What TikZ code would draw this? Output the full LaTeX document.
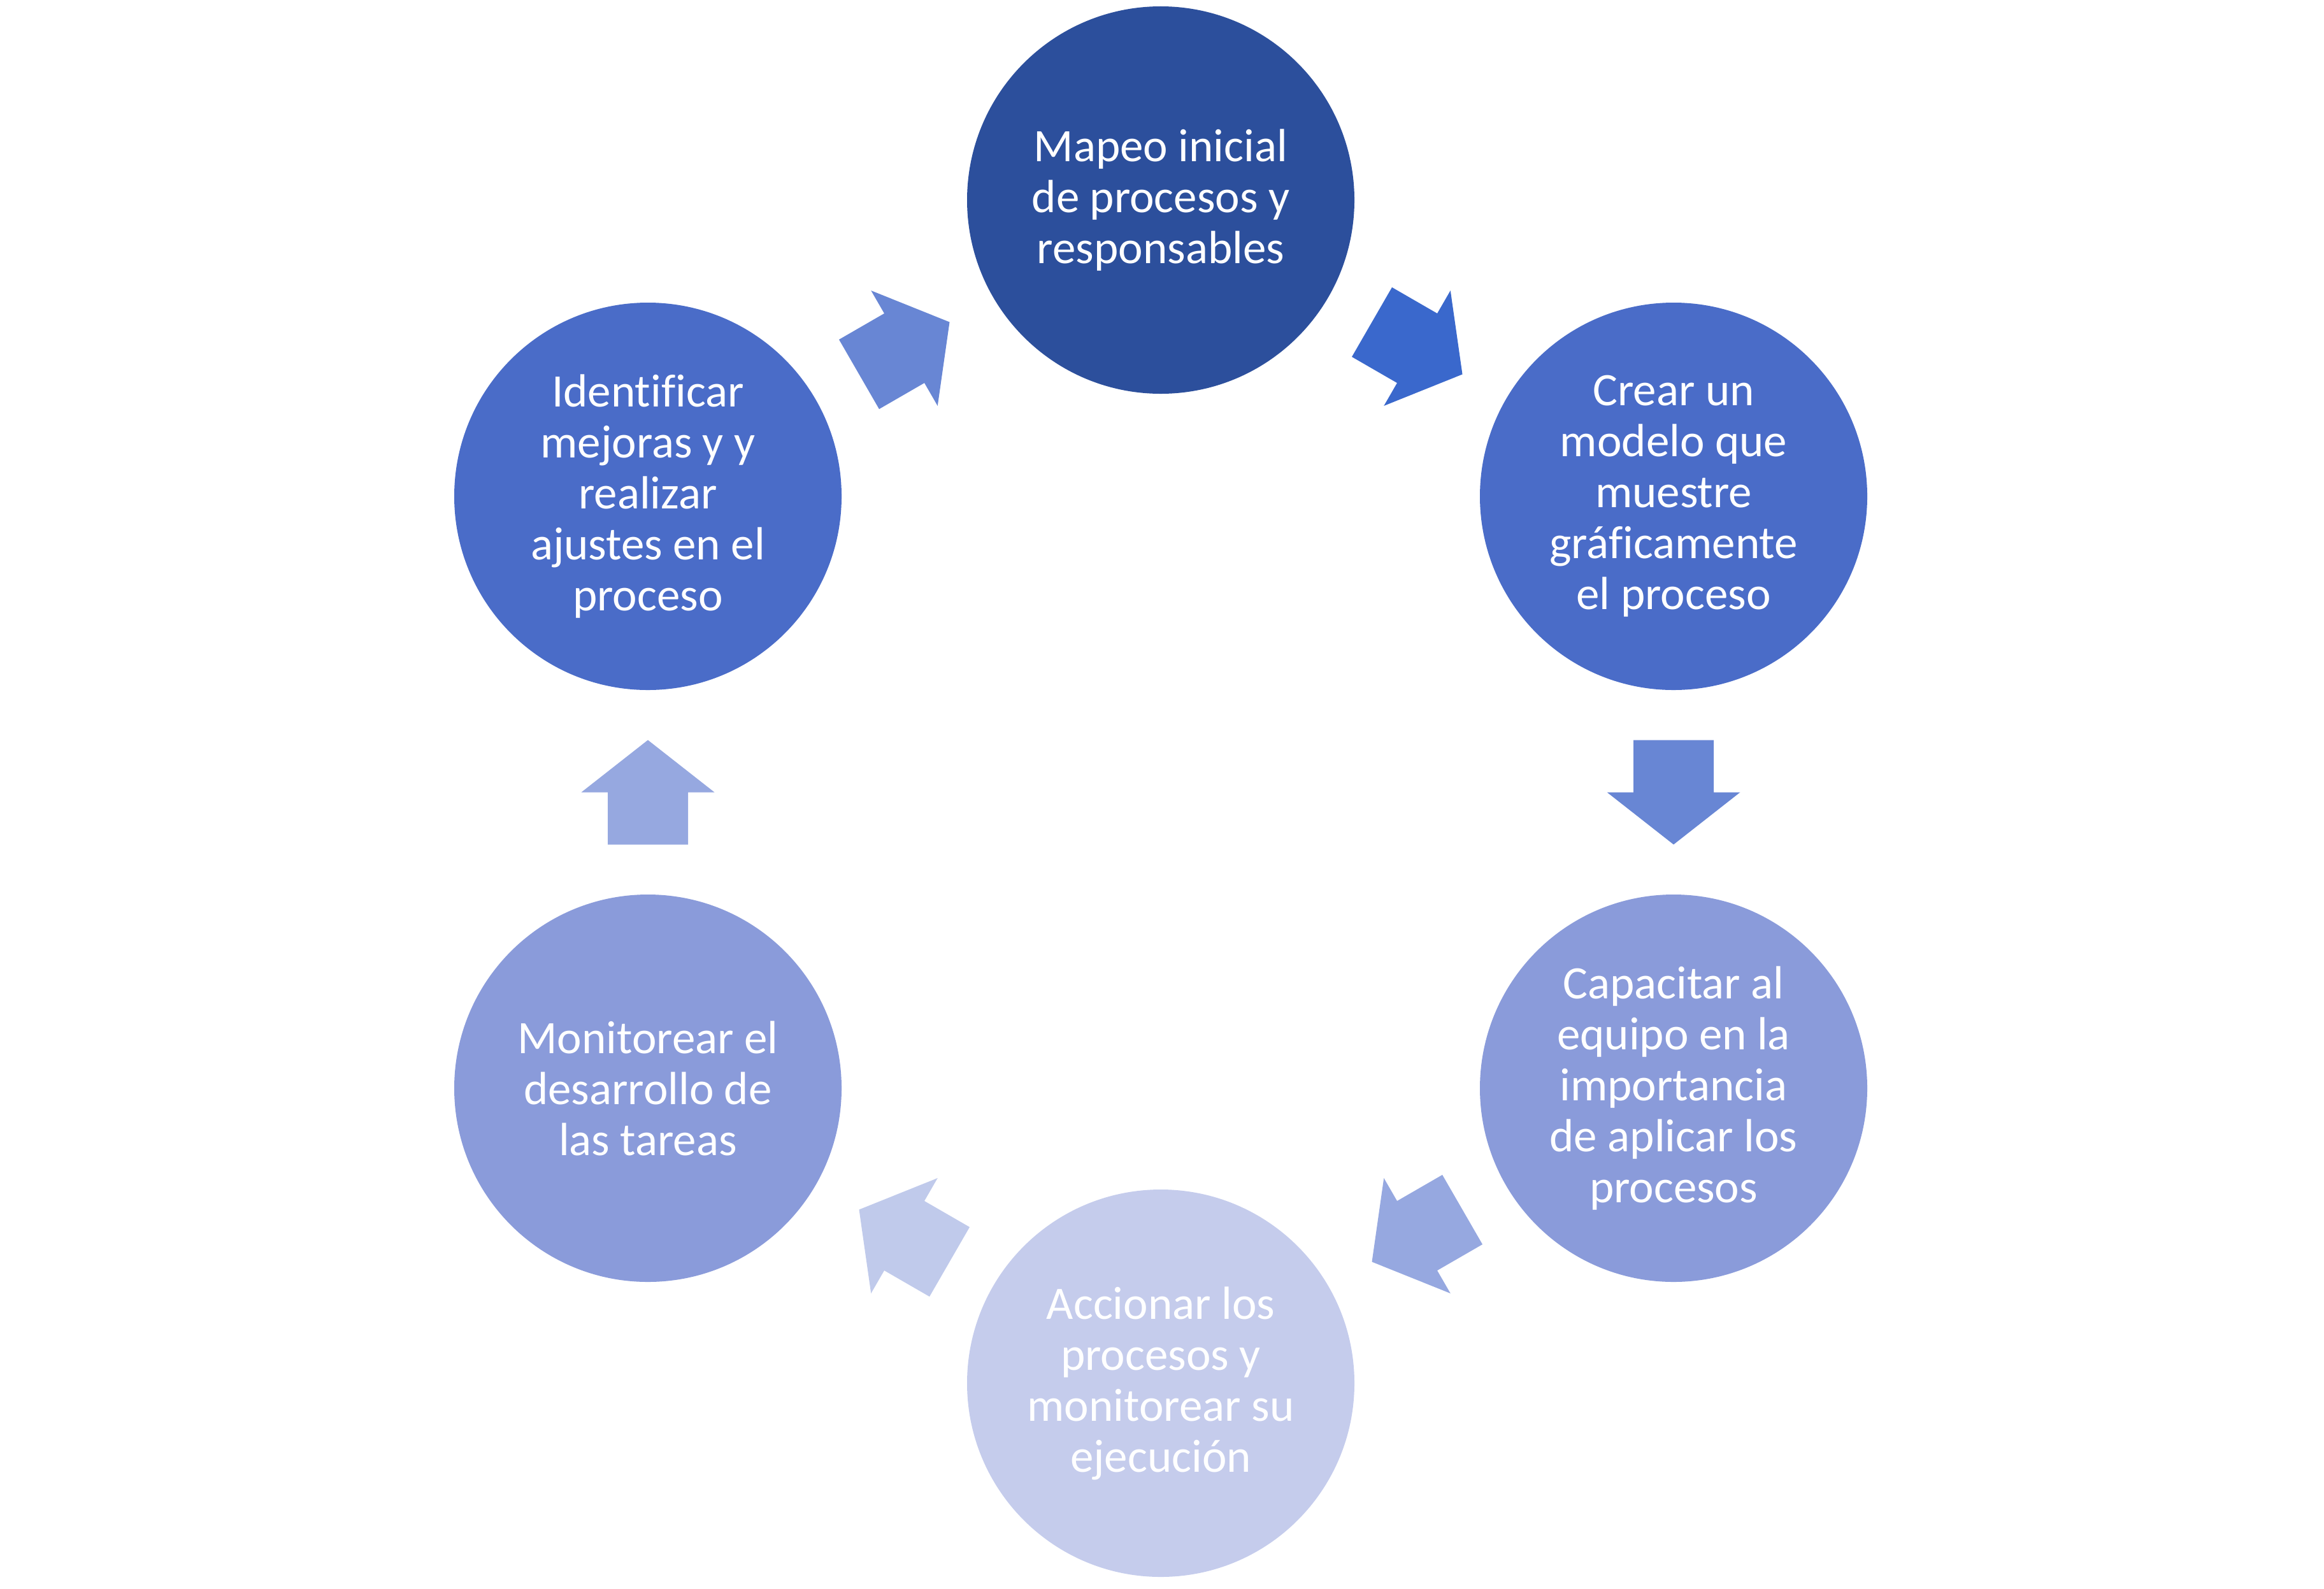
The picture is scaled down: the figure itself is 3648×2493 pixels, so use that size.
\documentclass[tikz,border=0pt]{standalone}
\usepackage{fontspec}
\setmainfont{Carlito}[Ligatures=CommonOff]
\usetikzlibrary{calc}
\definecolor{cTop}{RGB}{44,79,156}
\definecolor{cMid}{RGB}{74,108,200}
\definecolor{cLow}{RGB}{138,155,218}
\definecolor{cBot}{RGB}{197,204,236}
\definecolor{aOne}{RGB}{58,104,204}
\definecolor{aTwo}{RGB}{104,134,212}
\definecolor{aThree}{RGB}{150,168,224}
\definecolor{aFour}{RGB}{192,202,235}
\newcommand\cyclearrow[4]{%
  \begin{scope}[shift={($(#1)!0.5!(#2)$)}, rotate=#3]
    \fill[#4] (-82,-63) -- (0,-63) -- (0,-104.5) -- (82,0) -- (0,104.5) -- (0,63) -- (-82,63) -- cycle;
  \end{scope}}
\begin{document}
\begin{tikzpicture}[x=0.2pt,y=-0.2pt,
  circ/.style={circle, minimum size=121.6pt, inner sep=0pt, text=white, align=center,
    font=\fontsize{14.6pt}{16pt}\selectfont}]
\useasboundingbox (0,0) rectangle (3648,2493);
\node[circ, fill=cTop] (top) at (1822,314) {Mapeo inicial\\de procesos y\\responsables};
\node[circ, fill=cMid] (ur) at (2627,779) {Crear un\\modelo que\\muestre\\gráficamente\\el proceso};
\node[circ, fill=cLow] (lr) at (2627,1708) {Capacitar al\\equipo en la\\importancia\\de aplicar los\\procesos};
\node[circ, fill=cBot] (bot) at (1822,2171) {Accionar los\\procesos y\\monitorear su\\ejecución};
\node[circ, fill=cLow] (ll) at (1017,1708) {Monitorear el\\desarrollo de\\las tareas};
\node[circ, fill=cMid] (ul) at (1017,779) {Identificar\\mejoras y y\\realizar\\ajustes en el\\proceso};
\cyclearrow{top}{ur}{-30}{aOne}
\cyclearrow{ur}{lr}{-90}{aTwo}
\cyclearrow{lr}{bot}{-150}{aThree}
\cyclearrow{bot}{ll}{150}{aFour}
\cyclearrow{ll}{ul}{90}{aThree}
\cyclearrow{ul}{top}{30}{aTwo}
\end{tikzpicture}
\end{document}
